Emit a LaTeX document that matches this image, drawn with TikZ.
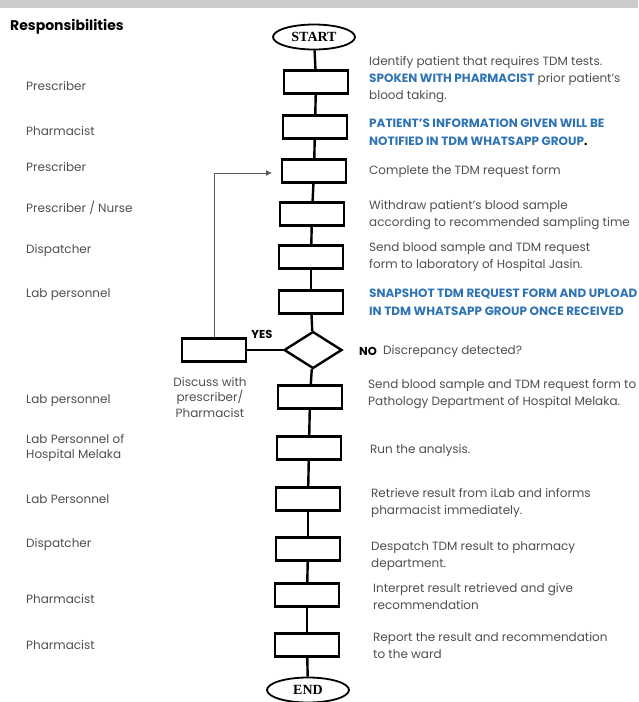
\documentclass[tikz,border=0pt]{standalone}
\usepackage{fontspec}
\setmainfont{Poppins}
\newfontfamily\termfont{Liberation Serif}
\usetikzlibrary{shapes.geometric,arrows.meta}
\definecolor{txtgray}{HTML}{4F4F4F}
\definecolor{hiblue}{HTML}{2E74B5}
\begin{document}
\begin{tikzpicture}[x=1pt,y=-1pt,
  flowbox/.style={draw,line width=2.4pt,minimum width=64pt,minimum height=23pt,inner sep=0pt},
  terminal/.style={draw,ellipse,line width=1.8pt,minimum width=82pt,minimum height=25pt,inner sep=0pt,font=\termfont\bfseries\fontsize{14}{14}\selectfont},
  decision/.style={draw,diamond,line width=2.4pt,minimum width=58pt,minimum height=37pt,inner sep=0pt},
  conn/.style={line width=2.4pt},
  back/.style={line width=0.8pt,draw=gray!70!black,-{Latex[length=6pt,width=6pt]}},
  role/.style={anchor=west,inner sep=0pt,align=left,text=txtgray,font=\fontsize{12}{15}\selectfont},
  task/.style={anchor=west,inner sep=0pt,align=left,text=txtgray,font=\fontsize{12}{17}\selectfont},
  hi/.style={task,text=hiblue,font=\bfseries\fontsize{12}{18}\selectfont},
  tag/.style={inner sep=0pt,font=\bfseries\fontsize{11.5}{12}\selectfont}]
  \useasboundingbox (0,0) rectangle (638,702);
  \fill[gray!40] (0,0) rectangle (638,8);
  % flow column
  \node[terminal] (start) at (314,37) {START};
  \node[flowbox] (b1) at (316,82) {};
  \node[flowbox] (b2) at (315,127) {};
  \node[flowbox] (b3) at (314,171) {};
  \node[flowbox] (b4) at (312,214) {};
  \node[flowbox] (b5) at (311,257) {};
  \node[flowbox] (b6) at (311,302) {};
  \node[decision] (chk) at (313,350) {};
  \node[flowbox] (b7) at (310,397) {};
  \node[flowbox] (b8) at (309,448) {};
  \node[flowbox] (b9) at (308,499) {};
  \node[flowbox] (b10) at (308,549) {};
  \node[flowbox] (b11) at (307,595) {};
  \node[flowbox] (b12) at (307,645) {};
  \node[terminal] (end) at (308,690) {END};
  \node[flowbox] (disc) at (214,350) {};
  \coordinate (fbtip) at (272,173);
  \draw[conn] (start) -- (b1);
  \draw[conn] (b1) -- (b2);
  \draw[conn] (b2) -- (b3);
  \draw[conn] (b3) -- (b4);
  \draw[conn] (b4) -- (b5);
  \draw[conn] (b5) -- (b6);
  \draw[conn] (b6) -- (chk);
  \draw[conn] (chk) -- (b7);
  \draw[conn] (b7) -- (b8);
  \draw[conn] (b8) -- (b9);
  \draw[conn] (b9) -- (b10);
  \draw[conn] (b10) -- (b11);
  \draw[conn] (b11) -- (b12);
  \draw[conn] (b12) -- (end);
  \draw[conn] (chk) -- (disc);
  \draw[back] (disc.north) |- (fbtip);
  \node[tag] (yes) at (262,334) {YES};
  \node[tag,anchor=west] (no) at (359,351) {NO};
  \node[anchor=north,inner sep=0pt,align=center,text=txtgray,font=\fontsize{12}{15.5}\selectfont] (disctxt) at (210,377) {Discuss with\\prescriber/\\Pharmacist};
  % responsibilities
  \node[anchor=west,inner sep=0pt,font=\bfseries\fontsize{14}{14}\selectfont] (resp) at (10,27) {Responsibilities};
  \node[role] (p1) at (26,86) {Prescriber};
  \node[role] (p2) at (26,131) {Pharmacist};
  \node[role] (p3) at (26,167) {Prescriber};
  \node[role] (p4) at (26,208) {Prescriber / Nurse};
  \node[role] (p5) at (26,250) {Dispatcher};
  \node[role] (p6) at (26,295) {Lab personnel};
  \node[role] (p7) at (26,401) {Lab personnel};
  \node[role] (p8) at (26,448) {Lab Personnel of\\Hospital Melaka};
  \node[role] (p9) at (26,499) {Lab Personnel};
  \node[role] (p10) at (26,544) {Dispatcher};
  \node[role] (p11) at (26,599) {Pharmacist};
  \node[role] (p12) at (26,645) {Pharmacist};
  % task descriptions
  \node[task] (t1) at (369,80) {Identify patient that requires TDM tests.\\{\color{hiblue}\bfseries SPOKEN WITH PHARMACIST} prior patient's\\blood taking.};
  \node[hi] (t2) at (369,132) {PATIENT'S INFORMATION GIVEN WILL BE\\NOTIFIED IN TDM WHATSAPP GROUP{\color{black}.}};
  \node[task] (t3) at (369,171) {Complete the TDM request form};
  \node[task] (t4) at (369,215.5) {Withdraw patient's blood sample\\according to recommended sampling time};
  \node[task] (t5) at (369,257.5) {Send blood sample and TDM request\\form to laboratory of Hospital Jasin.};
  \node[hi] (t6) at (369,302.5) {SNAPSHOT TDM REQUEST FORM AND UPLOAD\\IN TDM WHATSAPP GROUP ONCE RECEIVED};
  \node[task] (chktxt) at (383,351) {Discrepancy detected?};
  \node[task] (t7) at (368,394.5) {Send blood sample and TDM request form to\\Pathology Department of Hospital Melaka.};
  \node[task] (t8) at (370,450) {Run the analysis.};
  \node[task] (t9) at (371,502.5) {Retrieve result from iLab and informs\\pharmacist immediately.};
  \node[task] (t10) at (371,556) {Despatch TDM result to pharmacy\\department.};
  \node[task] (t11) at (373,596) {Interpret result retrieved and give\\recommendation};
  \node[task] (t12) at (373,645.5) {Report the result and recommendation\\to the ward};
\end{tikzpicture}
\end{document}
